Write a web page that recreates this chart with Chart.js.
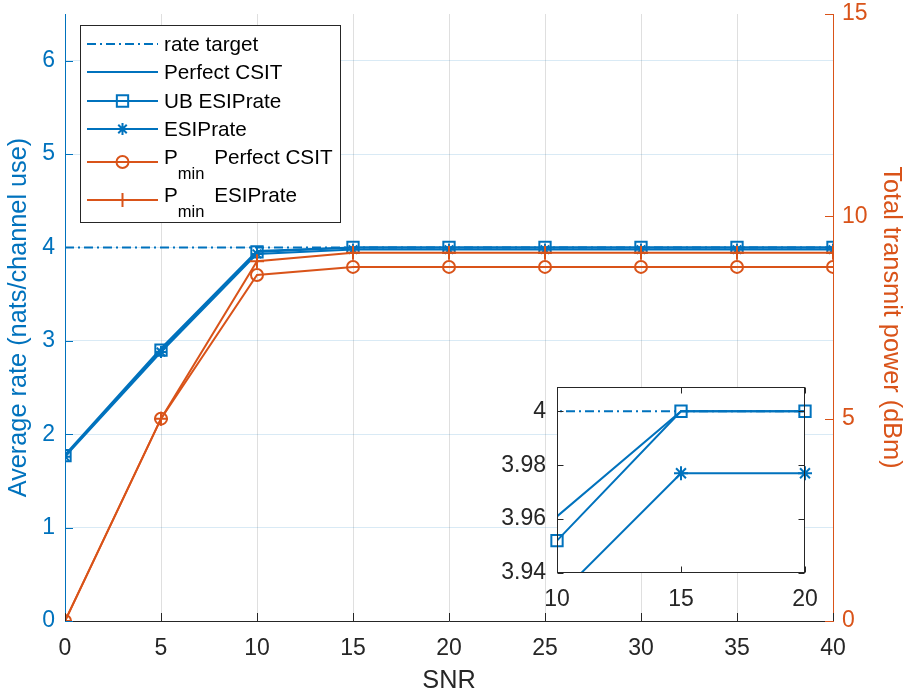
<!DOCTYPE html>
<html>
<head>
<meta charset="utf-8">
<script src="https://cdn.jsdelivr.net/npm/chart.js@4/dist/chart.umd.min.js"></script>
<style>
  html, body { margin: 0; padding: 0; background: #fff; }
  #wrap { position: relative; width: 913px; height: 696px; }
  #inset { position: absolute; left: 490px; top: 377px; }
</style>
</head>
<body>
<div id="wrap">
  <canvas id="main" width="913" height="696"></canvas>
  <canvas id="inset" width="330" height="240"></canvas>
</div>
<script>
// data
const snr = [0, 5, 10, 15, 20, 25, 30, 35, 40];
const rateTarget = [4, 4, 4, 4, 4, 4, 4, 4, 4];
const ratePerfect = [1.78, 2.92, 3.961, 4, 4, 4, 4, 4, 4];
const rateUB = [1.77, 2.90, 3.952, 4, 4, 4, 4, 4, 4];
const rateESIP = [1.76, 2.88, 3.931, 3.977, 3.977, 3.977, 3.977, 3.977, 3.977];
const powPerfect = [0, 5.0, 8.55, 8.75, 8.75, 8.75, 8.75, 8.75, 8.75];
const powESIP = [0, 5.0, 8.89, 9.1, 9.1, 9.1, 9.1, 9.1, 9.1];

const legendNames = ['rate target', 'Perfect CSIT', 'UB ESIPrate', 'ESIPrate',
  'P_{min} Perfect CSIT', 'P_{min} ESIPrate'];

const xTicks = [0, 5, 10, 15, 20, 25, 30, 35, 40];
const rateTicks = [0, 1, 2, 3, 4, 5, 6];
const powTicks = [0, 5, 10, 15];
const insetXTicks = [10, 15, 20];
const insetYTicks = [3.94, 3.96, 3.98, 4];

const FONT = "'Liberation Sans', Arial, Helvetica, sans-serif";
const blue = '#0072BD';
const orange = '#D95319';
const dark = '#262626';
const none = 'rgba(0,0,0,0)';
const dashDot = [9, 4, 2, 4];

const pts = arr => snr.map((x, i) => ({ x: x, y: arr[i] }));
const fixTicks = list => scale => { scale.ticks = list.map(v => ({ value: v })); };
// fixed axis box sizes, no extra label padding
const fixWidth = w => s => { s.width = w; s.paddingTop = 0; s.paddingBottom = 0; };
const fixHeight = h => s => { s.height = h; s.paddingLeft = 0; s.paddingRight = 0; };

function series(label, data, color, axis, style, radius, dash) {
  return {
    label: label, data: pts(data), yAxisID: axis,
    borderColor: color, backgroundColor: none, borderWidth: 2,
    borderDash: dash || [],
    pointStyle: style || 'circle', pointRadius: radius || 0,
    pointBorderColor: color, pointBackgroundColor: none, pointBorderWidth: 2,
    pointHoverRadius: radius || 0, tension: 0
  };
}

// ticks inside the axes, like the original
function tickLines(ctx, color, list) {
  ctx.save();
  ctx.strokeStyle = color;
  ctx.lineWidth = 1;
  ctx.beginPath();
  list.forEach(l => { ctx.moveTo(l[0], l[1]); ctx.lineTo(l[2], l[3]); });
  ctx.stroke();
  ctx.restore();
}

function drawLegend(chart) {
  const ctx = chart.ctx;
  const rows = [44, 72, 101, 129, 162, 200];
  ctx.save();
  ctx.fillStyle = '#fff';
  ctx.fillRect(80, 25, 260, 197);
  ctx.strokeStyle = dark;
  ctx.lineWidth = 1;
  ctx.strokeRect(80.5, 25.5, 260, 197);
  chart.data.datasets.forEach((ds, i) => {
    const y = rows[i];
    ctx.strokeStyle = ds.borderColor;
    ctx.lineWidth = ds.borderWidth;
    ctx.setLineDash(ds.borderDash);
    ctx.beginPath();
    ctx.moveTo(87, y);
    ctx.lineTo(158, y);
    ctx.stroke();
    ctx.setLineDash([]);
    if (ds.pointRadius > 0) {
      ctx.fillStyle = none;
      Chart.helpers.drawPoint(ctx, {
        pointStyle: ds.pointStyle, radius: ds.pointRadius,
        borderWidth: ds.pointBorderWidth, rotation: 0
      }, 122.5, y);
    }
    ctx.fillStyle = '#000';
    ctx.textAlign = 'left';
    ctx.textBaseline = 'alphabetic';
    const name = legendNames[i];
    const m = name.match(/^(.*)_\{(.*?)\}(.*)$/);
    if (m) {
      ctx.font = '20.7px ' + FONT;
      ctx.fillText(m[1], 164, y + 2);
      let x = 164 + ctx.measureText(m[1]).width;
      ctx.font = '16.5px ' + FONT;
      ctx.fillText(m[2], x, y + 17);
      x += ctx.measureText(m[2]).width + 4;
      ctx.font = '20.7px ' + FONT;
      ctx.fillText(m[3], x, y + 2);
    } else {
      ctx.font = '20.7px ' + FONT;
      ctx.fillText(name, 164, y + 7);
    }
  });
  ctx.restore();
}

const mainDecor = {
  id: 'mainDecor',
  afterDraw(chart) {
    const a = chart.chartArea;
    const sx = chart.scales.x, sy = chart.scales.y, sy1 = chart.scales.y1;
    const t = 8;
    tickLines(chart.ctx, blue, rateTicks.map(v => {
      const y = Math.round(sy.getPixelForValue(v)) + 0.5;
      return [a.left, y, a.left + t, y];
    }));
    tickLines(chart.ctx, orange, powTicks.map(v => {
      const y = Math.round(sy1.getPixelForValue(v)) + 0.5;
      return [a.right, y, a.right - t, y];
    }));
    tickLines(chart.ctx, dark, xTicks.map(v => {
      const x = Math.round(sx.getPixelForValue(v)) + 0.5;
      return [x, a.bottom, x, a.bottom - t];
    }));
    drawLegend(chart);
  }
};

const tickFont = { family: FONT, size: 23 };
const titleFont = { family: FONT, size: 25.3 };

const mainSets = [
  series(legendNames[0], rateTarget, blue, 'y', 'circle', 0, dashDot),
  series(legendNames[1], ratePerfect, blue, 'y'),
  series(legendNames[2], rateUB, blue, 'y', 'rect', 8),
  series(legendNames[3], rateESIP, blue, 'y', 'star', 6),
  series(legendNames[4], powPerfect, orange, 'y1', 'circle', 6),
  series(legendNames[5], powESIP, orange, 'y1', 'cross', 7)
];
mainSets.forEach((ds, i) => { ds.order = mainSets.length - i; });

new Chart(document.getElementById('main'), {
  type: 'line',
  data: { datasets: mainSets },
  options: {
    responsive: false,
    animation: false,
    layout: { padding: { top: 14, left: 0, right: 0, bottom: 0 } },
    plugins: { legend: { display: false }, tooltip: { enabled: false } },
    scales: {
      x: {
        type: 'linear', min: 0, max: 40,
        afterBuildTicks: fixTicks(xTicks),
        afterFit: fixHeight(75),
        grid: { color: 'rgba(38,38,38,0.15)', drawTicks: false },
        border: { color: dark },
        ticks: { color: dark, font: tickFont, padding: 14, maxRotation: 0 },
        title: { display: true, text: 'SNR', color: dark, font: titleFont, padding: { top: 0, bottom: 0 } }
      },
      y: {
        position: 'left', min: 0, max: 6.5,
        afterBuildTicks: fixTicks(rateTicks),
        afterFit: fixWidth(65),
        grid: { color: 'rgba(0,114,189,0.15)', drawTicks: false },
        border: { color: blue },
        ticks: { color: blue, font: tickFont, padding: 10 },
        title: { display: true, text: 'Average rate (nats/channel use)', color: blue, font: titleFont, padding: { top: 4, bottom: 0 } }
      },
      y1: {
        position: 'right', min: 0, max: 15,
        afterBuildTicks: fixTicks(powTicks),
        afterFit: fixWidth(80),
        grid: { drawOnChartArea: false, drawTicks: false },
        border: { color: orange },
        ticks: { color: orange, font: tickFont, padding: 9 },
        title: { display: true, text: 'Total transmit power (dBm)', color: orange, font: titleFont, padding: { top: 7, bottom: 0 } }
      }
    }
  },
  plugins: [mainDecor]
});

// zoomed inset (SNR 10..20)
const insetDecor = {
  id: 'insetDecor',
  beforeDraw(chart) {
    const a = chart.chartArea;
    chart.ctx.save();
    chart.ctx.fillStyle = '#fff';
    chart.ctx.fillRect(a.left, a.top, a.right - a.left, a.bottom - a.top);
    chart.ctx.restore();
  },
  afterDraw(chart) {
    const a = chart.chartArea, ctx = chart.ctx;
    const sx = chart.scales.x, sy = chart.scales.y;
    const t = 6;
    const L = Math.round(a.left) + 0.5, R = Math.round(a.right) - 0.5;
    const T = Math.round(a.top) + 0.5, B = Math.round(a.bottom) - 0.5;
    const lines = [];
    insetYTicks.forEach(v => {
      const y = Math.round(sy.getPixelForValue(v)) + 0.5;
      lines.push([L, y, L + t, y], [R, y, R - t, y]);
    });
    insetXTicks.forEach(v => {
      const x = Math.round(sx.getPixelForValue(v)) + 0.5;
      lines.push([x, B, x, B - t], [x, T, x, T + t]);
    });
    tickLines(ctx, dark, lines);
    ctx.save();
    ctx.strokeStyle = dark;
    ctx.lineWidth = 1;
    ctx.strokeRect(L, T, R - L, B - T);
    ctx.restore();
  }
};

const ubMarks = series(legendNames[2], rateUB, blue, 'y', 'rect', 8);
ubMarks.showLine = false; ubMarks.clip = 8;
const esipMarks = series(legendNames[3], rateESIP, blue, 'y', 'star', 7);
esipMarks.showLine = false; esipMarks.clip = 8;

const insetSets = [
  series(legendNames[0], rateTarget, blue, 'y', 'circle', 0, dashDot),
  series(legendNames[1], ratePerfect, blue, 'y'),
  series(legendNames[2], rateUB, blue, 'y'),
  series(legendNames[3], rateESIP, blue, 'y'),
  ubMarks,
  esipMarks
];
insetSets.forEach((ds, i) => { ds.order = insetSets.length - i; });

new Chart(document.getElementById('inset'), {
  type: 'line',
  data: { datasets: insetSets },
  options: {
    responsive: false,
    animation: false,
    layout: { padding: { top: 10, right: 15, left: 0, bottom: 0 } },
    plugins: { legend: { display: false }, tooltip: { enabled: false } },
    scales: {
      x: {
        type: 'linear', min: 10, max: 20,
        afterBuildTicks: fixTicks(insetXTicks),
        afterFit: fixHeight(44),
        grid: { display: false, drawTicks: false },
        border: { display: false },
        ticks: { color: dark, font: tickFont, padding: 13, maxRotation: 0 }
      },
      y: {
        min: 3.94, max: 4.009,
        afterBuildTicks: fixTicks(insetYTicks),
        afterFit: fixWidth(67),
        grid: { display: false, drawTicks: false },
        border: { display: false },
        ticks: { color: dark, font: tickFont, padding: 11, callback: v => String(+v.toFixed(3)) }
      }
    }
  },
  plugins: [insetDecor]
});
</script>
</body>
</html>
